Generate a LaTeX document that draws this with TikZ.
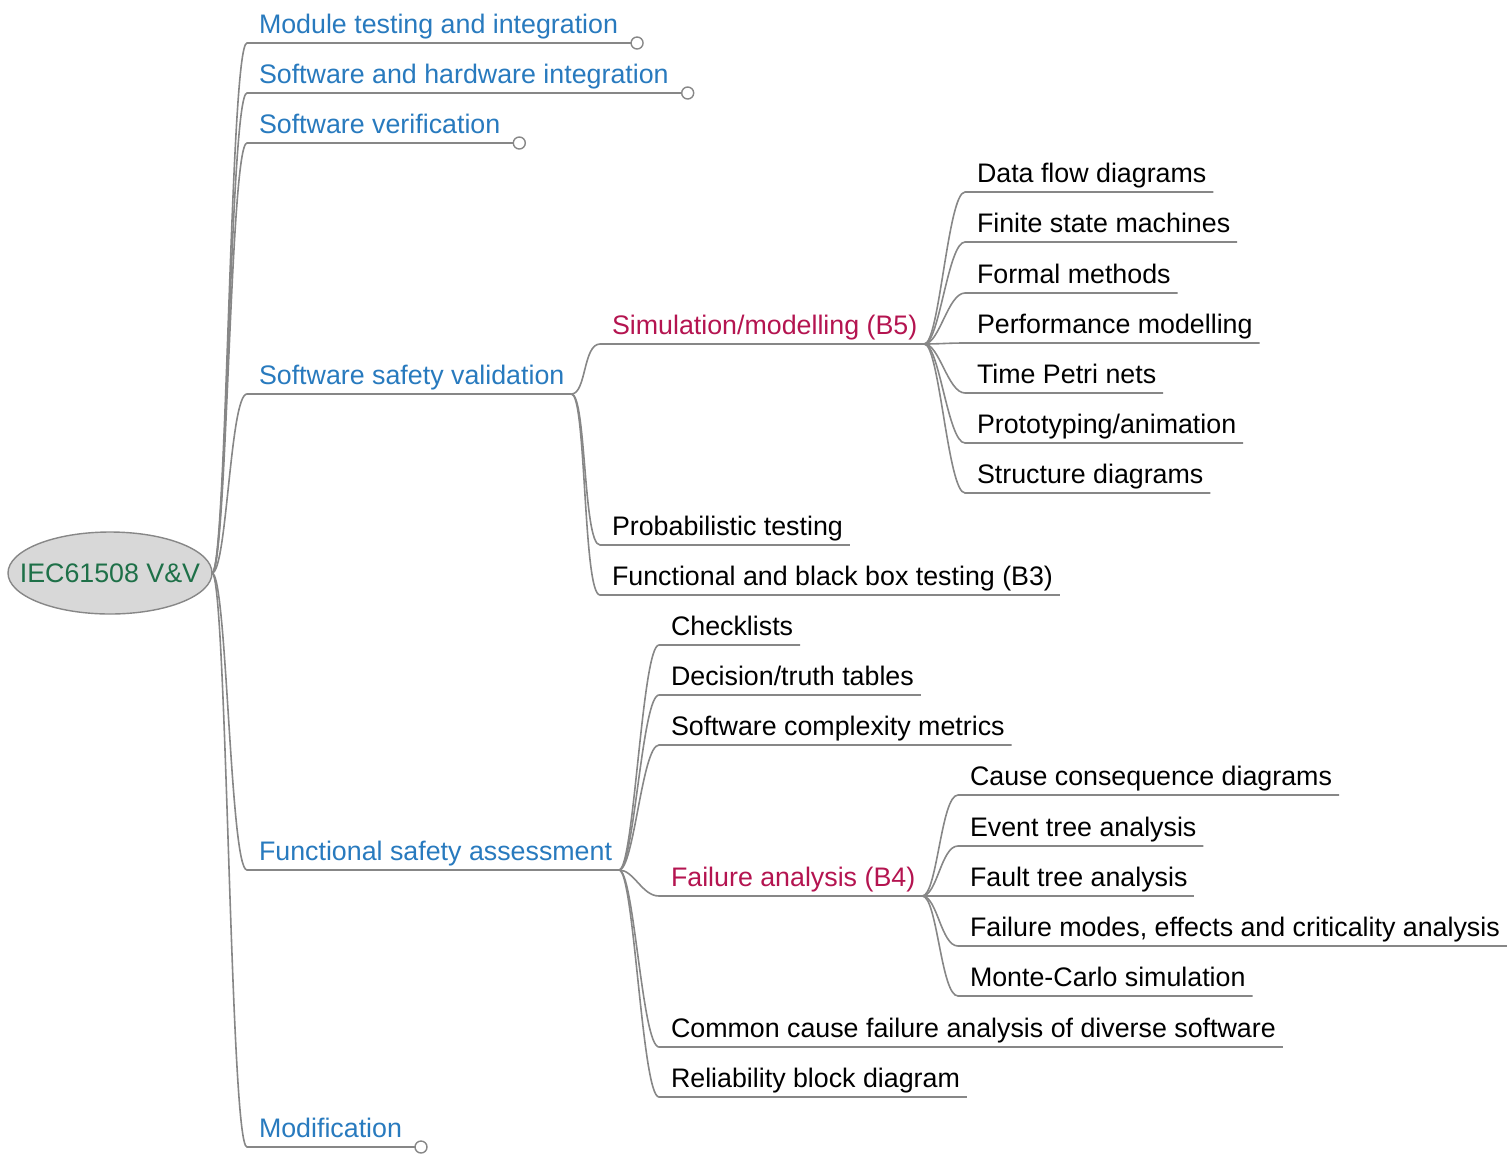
\documentclass[tikz,border=0pt]{standalone}
\usepackage{fontspec}
\setmainfont{Liberation Sans}
\usetikzlibrary{calc,shapes.geometric}

\definecolor{linegray}{RGB}{135,135,135}
\definecolor{topicblue}{RGB}{40,122,190}
\definecolor{groupred}{RGB}{180,20,80}
\definecolor{rootgreen}{RGB}{30,112,72}
\definecolor{rootfill}{RGB}{216,216,216}

\newcommand\mapfont{\fontsize{26.8}{32}\selectfont}

% curved connector from a junction to a topic, followed by the topic's underline;
% the underline's right end becomes the topic's own junction (name-j)
\newcommand\mmlink[2]{%
  \draw[link] (#1) .. controls +(15,0) and +(-17,0) .. ($(#2.south west)+(-12,0)$)
    -- ($(#2.south east)+(7,0)$) coordinate (#2-j);}
% same, for a collapsed topic ending in a small circle
\newcommand\mmcollapsed[2]{%
  \draw[link] (#1) .. controls +(15,0) and +(-17,0) .. ($(#2.south west)+(-12,0)$)
    -- ($(#2.south east)+(19,0)$) node[knob] {};}

\begin{document}
\begin{tikzpicture}[x=1pt,y=-1pt,
  link/.style={draw=linegray, line width=1.6pt},
  topic/.style={anchor=base west, inner sep=0pt, outer sep=0pt, text depth=10pt, font=\mapfont},
  lvlone/.style={topic, text=topicblue},
  group/.style={topic, text=groupred},
  leaf/.style={topic, text=black},
  knob/.style={circle, draw=linegray, fill=white, line width=1.4pt, minimum size=12pt, inner sep=0pt},
  rootnode/.style={ellipse, draw=linegray, fill=rootfill, line width=1.4pt,
    minimum width=204pt, minimum height=82pt, inner sep=0pt, outer sep=0pt, text=rootgreen, font=\mapfont}]

\useasboundingbox (0,0) rectangle (1508,1160);

% central topic (zero-width box so the ellipse keeps its fixed size)
\node[rootnode] (root) at (110,573) {\makebox[0pt]{IEC61508 V\&V}};

% first level
\node[lvlone] (mti)  at (259,33)   {Module testing and integration};
\node[lvlone] (swhw) at (259,83)   {Software and hardware integration};
\node[lvlone] (swv)  at (259,133)  {Software verification};
\node[lvlone] (ssv)  at (259,384)  {Software safety validation};
\node[lvlone] (fsa)  at (259,860)  {Functional safety assessment};
\node[lvlone] (mod)  at (259,1137) {Modification};

% software safety validation
\node[group] (sim)  at (612,334) {Simulation/modelling (B5)};
\node[leaf]  (prob) at (612,535) {Probabilistic testing};
\node[leaf]  (fbb)  at (612,585) {Functional and black box testing (B3)};

% simulation/modelling
\node[leaf] (dfd)   at (977,182) {Data flow diagrams};
\node[leaf] (fsm)   at (977,232) {Finite state machines};
\node[leaf] (fm)    at (977,283) {Formal methods};
\node[leaf] (pm)    at (977,333) {Performance modelling};
\node[leaf] (tpn)   at (977,383) {Time Petri nets};
\node[leaf] (proto) at (977,433) {Prototyping/animation};
\node[leaf] (sd)    at (977,483) {Structure diagrams};

% functional safety assessment
\node[leaf]  (chk) at (671,635)  {Checklists};
\node[leaf]  (dec) at (671,685)  {Decision/truth tables};
\node[leaf]  (scm) at (671,735)  {Software complexity metrics};
\node[group] (fa)  at (671,886)  {Failure analysis (B4)};
\node[leaf]  (ccf) at (671,1037) {Common cause failure analysis of diverse software};
\node[leaf]  (rbd) at (671,1087) {Reliability block diagram};

% failure analysis
\node[leaf] (ccd)   at (970,785) {Cause consequence diagrams};
\node[leaf] (eta)   at (970,836) {Event tree analysis};
\node[leaf] (fta)   at (970,886) {Fault tree analysis};
\node[leaf] (fmeca) at (970,936) {Failure modes, effects and criticality analysis};
\node[leaf] (mc)    at (970,986) {Monte-Carlo simulation};

% connectors
\mmcollapsed{root.east}{mti}
\mmcollapsed{root.east}{swhw}
\mmcollapsed{root.east}{swv}
\mmlink{root.east}{ssv}
\mmlink{root.east}{fsa}
\mmcollapsed{root.east}{mod}

\mmlink{ssv-j}{sim}
\mmlink{ssv-j}{prob}
\mmlink{ssv-j}{fbb}

\foreach \t in {dfd,fsm,fm,pm,tpn,proto,sd} {\mmlink{sim-j}{\t}}

\mmlink{fsa-j}{chk}
\mmlink{fsa-j}{dec}
\mmlink{fsa-j}{scm}
\mmlink{fsa-j}{fa}
\mmlink{fsa-j}{ccf}
\mmlink{fsa-j}{rbd}

\foreach \t in {ccd,eta,fta,fmeca,mc} {\mmlink{fa-j}{\t}}

\end{tikzpicture}
\end{document}
